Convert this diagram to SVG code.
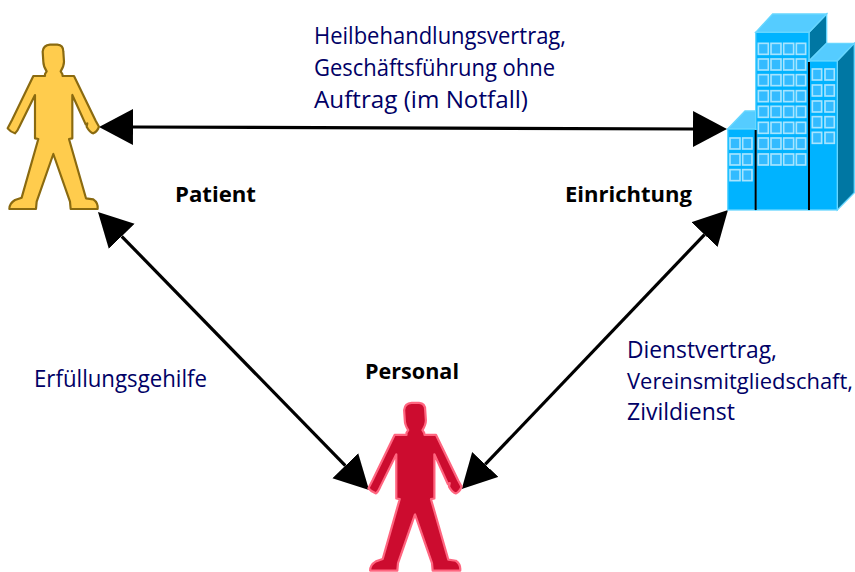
<svg xmlns="http://www.w3.org/2000/svg" xmlns:xlink="http://www.w3.org/1999/xlink" width="855" height="572" viewBox="0 0 855 572">
<style>
.t{font-family:"Open Sans","DejaVu Sans",sans-serif;font-size:23px;fill:#000066}
.b{font-family:"Open Sans","DejaVu Sans",sans-serif;font-size:22px;font-weight:700;fill:#000}
.c{fill:none;stroke:#000;stroke-width:3.2}
.w{fill:#33bbff;stroke:#a6e4ff;stroke-width:5}
.f{fill:#00b3ff;stroke:#66d6ff;stroke-width:4}
.r{fill:#55ccff;stroke:#66d6ff;stroke-width:4}
.s{fill:#0077a3;stroke:#66d6ff;stroke-width:4}
.k{stroke:#000;stroke-width:6;fill:none}
</style>
<defs>
<marker id="h" markerUnits="userSpaceOnUse" markerWidth="40" markerHeight="40" refX="0" refY="18" orient="auto-start-reverse"><path d="M0 0L34 18L0 36Z" fill="#000"/></marker>
<path id="p" d="M135 132L140 124Q130 108 130 95L128 65Q130 45 150 44L172 44Q190 45 190 65L192 95Q192 108 182 124L187 132L188 138L222 138L287 272L297 290Q292 305 280 310Q270 308 260 290L262 280L257 283L217 195L217 325L207 327L258 505L280 508Q295 518 293 537L212 537L210 515L160 372L110 515L108 537L28 537Q28 520 45 510L65 503L115 327L105 325L105 195L62 282L58 290Q52 305 45 310Q32 306 23 295L36 270L100 138L135 138Z" stroke-linejoin="round"/>
</defs>
<g id="connectors">
<line class="c" x1="133" y1="127" x2="693" y2="129" marker-start="url(#h)" marker-end="url(#h)"/>
<line class="c" x1="121.7" y1="236.3" x2="345.3" y2="465.7" marker-start="url(#h)" marker-end="url(#h)"/>
<line class="c" x1="704.5" y1="234.6" x2="485.2" y2="464.4" marker-start="url(#h)" marker-end="url(#h)"/>
</g>
<g id="patient">
<use xlink:href="#p" href="#p" transform="translate(0,30) scale(.3333)" fill="#ffcc4d" stroke="#8a6a10" stroke-width="6.5"/>
<text class="b" x="175" y="202" textLength="81" lengthAdjust="spacingAndGlyphs">Patient</text>
</g>
<g id="einrichtung">
<g transform="translate(690,0) scale(.3333)">
<path class="r" d="M113 387L165 333L197 333L197 387Z"/>
<path class="s" d="M357 97L410 42L410 130L357 183Z"/>
<path class="r" d="M197 97L248 42L410 42L357 97Z"/>
<rect class="f" x="197" y="97" width="160" height="533"/>
<rect class="f" x="113" y="387" width="84" height="243"/>
<path class="r" d="M357 183L410 130L493 130L442 183Z"/>
<path class="s" d="M442 183L493 130L493 578L442 630Z"/>
<rect class="f" x="357" y="183" width="85" height="447"/>
<path class="k" d="M197 390V630M357 186V630"/>
<g class="w">
<rect x="205" y="130" width="30" height="33"/><rect x="243" y="130" width="30" height="33"/><rect x="281" y="130" width="30" height="33"/><rect x="319" y="130" width="28" height="33"/>
<rect x="205" y="177" width="30" height="33"/><rect x="243" y="177" width="30" height="33"/><rect x="281" y="177" width="30" height="33"/><rect x="319" y="177" width="28" height="33"/>
<rect x="205" y="224" width="30" height="33"/><rect x="243" y="224" width="30" height="33"/><rect x="281" y="224" width="30" height="33"/><rect x="319" y="224" width="28" height="33"/>
<rect x="205" y="272" width="30" height="33"/><rect x="243" y="272" width="30" height="33"/><rect x="281" y="272" width="30" height="33"/><rect x="319" y="272" width="28" height="33"/>
<rect x="205" y="319" width="30" height="33"/><rect x="243" y="319" width="30" height="33"/><rect x="281" y="319" width="30" height="33"/><rect x="319" y="319" width="28" height="33"/>
<rect x="205" y="367" width="30" height="33"/><rect x="243" y="367" width="30" height="33"/><rect x="281" y="367" width="30" height="33"/><rect x="319" y="367" width="28" height="33"/>
<rect x="205" y="414" width="30" height="33"/><rect x="243" y="414" width="30" height="33"/><rect x="281" y="414" width="30" height="33"/><rect x="319" y="414" width="28" height="33"/>
<rect x="205" y="462" width="30" height="33"/><rect x="243" y="462" width="30" height="33"/><rect x="281" y="462" width="30" height="33"/><rect x="319" y="462" width="28" height="33"/>
<rect x="120" y="414" width="30" height="33"/><rect x="158" y="414" width="28" height="33"/>
<rect x="120" y="462" width="30" height="33"/><rect x="158" y="462" width="28" height="33"/>
<rect x="120" y="509" width="30" height="33"/><rect x="158" y="509" width="28" height="33"/>
<rect x="367" y="207" width="28" height="33"/><rect x="405" y="207" width="28" height="33"/>
<rect x="367" y="255" width="28" height="33"/><rect x="405" y="255" width="28" height="33"/>
<rect x="367" y="303" width="28" height="33"/><rect x="405" y="303" width="28" height="33"/>
<rect x="367" y="350" width="28" height="33"/><rect x="405" y="350" width="28" height="33"/>
<rect x="367" y="397" width="28" height="33"/><rect x="405" y="397" width="28" height="33"/>
</g>
</g>
<text class="b" x="565" y="202" textLength="127" lengthAdjust="spacingAndGlyphs">Einrichtung</text>
</g>
<g id="personal">
<use xlink:href="#p" href="#p" transform="translate(360.6,388) scale(.34)" fill="#cc0c2f" stroke="#ff6680" stroke-width="6.5"/>
<text class="b" x="365" y="379" textLength="94" lengthAdjust="spacingAndGlyphs">Personal</text>
</g>
<g id="labels">
<text class="t" x="314" y="44" textLength="252" lengthAdjust="spacingAndGlyphs">Heilbehandlungsvertrag,</text>
<text class="t" x="314" y="76" textLength="241" lengthAdjust="spacingAndGlyphs">Geschäftsführung ohne</text>
<text class="t" x="314" y="108" textLength="214" lengthAdjust="spacingAndGlyphs">Auftrag (im Notfall)</text>
<text class="t" x="34" y="387" textLength="173" lengthAdjust="spacingAndGlyphs">Erfüllungsgehilfe</text>
<text class="t" x="627" y="358" textLength="150" lengthAdjust="spacingAndGlyphs">Dienstvertrag,</text>
<text class="t" x="627" y="389" style="font-size:22px" textLength="226" lengthAdjust="spacingAndGlyphs">Vereinsmitgliedschaft,</text>
<text class="t" x="627" y="420" textLength="108" lengthAdjust="spacingAndGlyphs">Zivildienst</text>
</g>
</svg>
